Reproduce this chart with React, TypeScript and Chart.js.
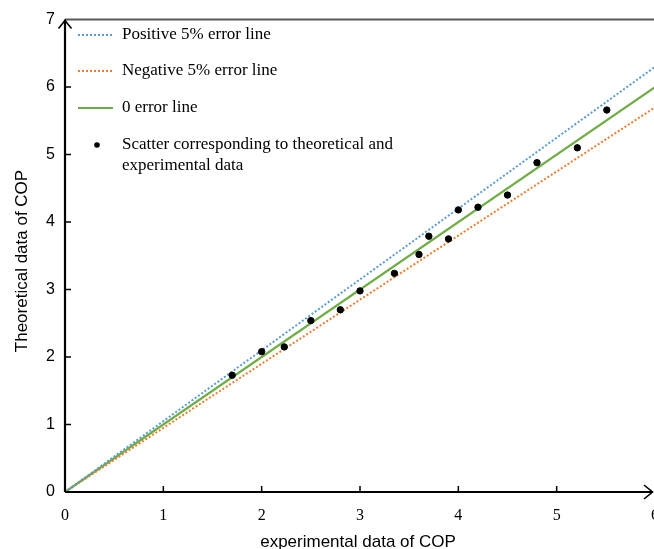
import React, { useEffect, useRef } from "react";
import { Chart, registerables } from "chart.js";

Chart.register(...registerables);

const expData = [1.70, 2.00, 2.23, 2.50, 2.80, 3.00, 3.35, 3.60, 3.70, 3.90, 4.00, 4.20, 4.50, 4.80, 5.21, 5.51];
const theoData = [1.73, 2.08, 2.15, 2.54, 2.70, 2.98, 3.24, 3.52, 3.79, 3.75, 4.18, 4.22, 4.40, 4.88, 5.10, 5.66];
const lineX = [0, 6];
const positiveLine = [0, 6.3];
const negativeLine = [0, 5.7];
const zeroLine = [0, 6];
const legendLabels = [
  "Positive 5% error line",
  "Negative 5% error line",
  "0 error line",
  ["Scatter corresponding to theoretical and", "experimental data"],
];
const xTitle = "experimental data of COP";
const yTitle = "Theoretical data of COP";

const BLUE = "#5B9BD5";
const ORANGE = "#ED7D31";
const GREEN = "#70AD47";

const decorPlugin = {
  id: "decor",
  afterDatasetsDraw(chart: any) {
    const ctx = chart.ctx;
    const { left, right, top, bottom } = chart.chartArea;
    const xs = chart.scales.x;
    const ys = chart.scales.y;
    ctx.save();
    // top border
    ctx.strokeStyle = "#595959";
    ctx.lineWidth = 2;
    ctx.beginPath();
    ctx.moveTo(left, top);
    ctx.lineTo(right + 20, top);
    ctx.stroke();
    // axes
    ctx.strokeStyle = "#000";
    ctx.lineWidth = 2.2;
    ctx.beginPath();
    ctx.moveTo(left, bottom);
    ctx.lineTo(left, top);
    ctx.moveTo(left, bottom);
    ctx.lineTo(652, bottom);
    ctx.stroke();
    // arrows
    ctx.lineWidth = 1.6;
    ctx.beginPath();
    ctx.moveTo(left - 6.5, top + 9);
    ctx.lineTo(left, top + 1);
    ctx.lineTo(left + 6.5, top + 9);
    ctx.moveTo(644, bottom - 7);
    ctx.lineTo(652.5, bottom);
    ctx.lineTo(644, bottom + 7);
    ctx.stroke();
    // ticks
    ctx.lineWidth = 1.5;
    ctx.beginPath();
    for (let v = 1; v <= 6; v++) {
      const py = ys.getPixelForValue(v);
      ctx.moveTo(left, py);
      ctx.lineTo(left + 6, py);
    }
    for (let v = 1; v <= 5; v++) {
      const px = xs.getPixelForValue(v);
      ctx.moveTo(px, bottom);
      ctx.lineTo(px, bottom - 6);
    }
    ctx.stroke();
    // titles
    ctx.fillStyle = "#000";
    ctx.font = "17px 'Liberation Sans', Arial, sans-serif";
    ctx.textAlign = "center";
    ctx.textBaseline = "middle";
    ctx.fillText(xTitle, 358, 542);
    ctx.save();
    ctx.translate(22, 261);
    ctx.rotate(-Math.PI / 2);
    ctx.fillText(yTitle, 0, 0);
    ctx.restore();
    // legend
    const rows = [35, 71, 108, 145];
    const styles = [
      { c: BLUE, d: [2, 2] },
      { c: ORANGE, d: [2, 2] },
      { c: GREEN, d: [] },
    ];
    styles.forEach((s, i) => {
      ctx.strokeStyle = s.c;
      ctx.lineWidth = 2;
      ctx.setLineDash(s.d);
      ctx.beginPath();
      ctx.moveTo(78, rows[i]);
      ctx.lineTo(113, rows[i]);
      ctx.stroke();
    });
    ctx.setLineDash([]);
    ctx.fillStyle = "#000";
    ctx.beginPath();
    ctx.arc(97, rows[3], 2.8, 0, Math.PI * 2);
    ctx.fill();
    ctx.font = "17px 'Liberation Serif', 'Times New Roman', serif";
    ctx.textAlign = "left";
    ctx.textBaseline = "middle";
    legendLabels.forEach((lab, i) => {
      if (Array.isArray(lab)) {
        lab.forEach((l, j) => ctx.fillText(l, 122, rows[i] + j * 21));
      } else {
        ctx.fillText(lab, 122, rows[i]);
      }
    });
    ctx.restore();
  },
};

export default function App() {
  const ref = useRef<HTMLCanvasElement>(null);
  useEffect(() => {
    const toPts = (ys: number[]) => lineX.map((x, i) => ({ x, y: ys[i] }));
    const chart = new Chart(ref.current!, {
      type: "scatter",
      data: {
        datasets: [
          {
            type: "scatter",
            label: "Scatter",
            data: expData.map((x, i) => ({ x, y: theoData[i] })),
            backgroundColor: "#000",
            borderColor: "#000",
            pointRadius: 3.2,
            order: 0,
          },
          {
            type: "line",
            label: "Positive 5% error line",
            data: toPts(positiveLine),
            borderColor: BLUE,
            borderWidth: 2,
            borderDash: [2, 2],
            pointRadius: 0,
            fill: false,
            order: 1,
          },
          {
            type: "line",
            label: "Negative 5% error line",
            data: toPts(negativeLine),
            borderColor: ORANGE,
            borderWidth: 2,
            borderDash: [2, 2],
            pointRadius: 0,
            fill: false,
            order: 2,
          },
          {
            type: "line",
            label: "0 error line",
            data: toPts(zeroLine),
            borderColor: GREEN,
            borderWidth: 2.3,
            pointRadius: 0,
            fill: false,
            order: 3,
          },
        ],
      },
      options: {
        responsive: false,
        animation: false,
        layout: { padding: { top: 17, right: 25, left: 0, bottom: 0 } },
        plugins: { legend: { display: false }, tooltip: { enabled: false } },
        scales: {
          x: {
            type: "linear",
            min: 0,
            max: 6,
            grid: { display: false, drawTicks: false },
            border: { display: false },
            ticks: {
              stepSize: 1,
              padding: 14,
              color: "#000",
              font: { family: "'Liberation Serif', 'Times New Roman', serif", size: 16 },
            },
            afterFit: (s: any) => {
              s.height = 57;
            },
          },
          y: {
            type: "linear",
            min: 0,
            max: 7,
            grid: { display: false, drawTicks: false },
            border: { display: false },
            ticks: {
              stepSize: 1,
              padding: 10,
              color: "#000",
              font: { family: "'Liberation Sans', Arial, sans-serif", size: 16 },
            },
            afterFit: (s: any) => {
              s.width = 65;
            },
          },
        },
      },
      plugins: [decorPlugin],
    } as any);
    return () => chart.destroy();
  }, []);
  return (
    <div style={{ position: "fixed", left: 0, top: 0, width: 654, height: 549, overflow: "hidden", background: "#fff" }}>
      <canvas ref={ref} width={680} height={549} style={{ width: 680, height: 549, display: "block" }} />
    </div>
  );
}
